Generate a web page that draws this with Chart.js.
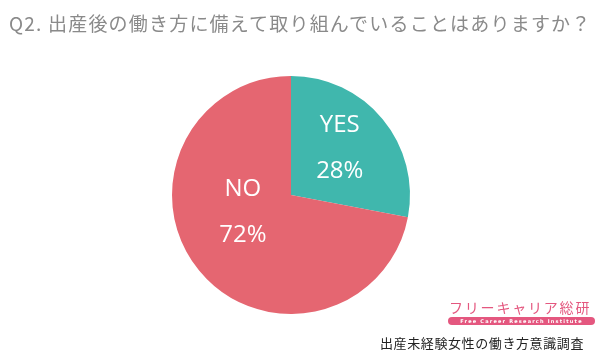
<!DOCTYPE html>
<html><head><meta charset="utf-8">
<script src="https://cdn.jsdelivr.net/npm/chart.js@4/dist/chart.umd.min.js"></script>
<style>
html,body{margin:0;padding:0;background:#fff;width:600px;height:358px;overflow:hidden;}
#wrap{position:relative;width:600px;height:358px;}
canvas{position:absolute;left:0;top:0;}
#title{position:absolute;left:9px;top:9px;font-family:"Noto Sans CJK JP";font-size:19px;color:#8a8a8a;letter-spacing:1.2px;white-space:nowrap;}
#logo{position:absolute;left:449px;top:297px;font-family:"Noto Sans CJK JP";font-size:14px;color:#e4577f;letter-spacing:1.8px;white-space:nowrap;}
#bar{position:absolute;left:448px;top:317px;width:147px;height:8px;border-radius:4px;background:#e4577f;color:#fff;font-family:"DejaVu Sans";font-weight:bold;font-size:5px;line-height:8px;text-align:center;letter-spacing:1.2px;white-space:nowrap;}
#foot{position:absolute;left:380px;top:333px;font-family:"Noto Sans CJK JP";font-size:13px;color:#222;letter-spacing:0.6px;white-space:nowrap;}
</style></head>
<body><div id="wrap">
<canvas id="c" width="600" height="358"></canvas>
<div id="title">Q2. 出産後の働き方に備えて取り組んでいることはありますか？</div>
<div id="logo">フリーキャリア総研</div>
<div id="bar">Free Career Research Institute</div>
<div id="foot">出産未経験女性の働き方意識調査</div>
</div>
<script>
const categories = ["YES", "NO"];
const values = [28, 72];
const colors = ["#40b7ad", "#e56671"];
// label placement (fraction of radius, angle in degrees) per slice
const labelPos = [[0.57, -44], [0.43, 160]];

const labelPlugin = {
  id: 'sliceLabels',
  afterDatasetsDraw(chart) {
    const ctx = chart.ctx;
    const meta = chart.getDatasetMeta(0);
    meta.data.forEach((arc, i) => {
      const r = arc.outerRadius * labelPos[i][0];
      const a = labelPos[i][1] * Math.PI / 180;
      const x = arc.x + r * Math.cos(a);
      const y = arc.y + r * Math.sin(a);
      ctx.save();
      ctx.fillStyle = '#ffffff';
      ctx.font = '24px "Open Sans", "Noto Sans"';
      ctx.textAlign = 'center';
      ctx.textBaseline = 'middle';
      ctx.fillText(categories[i], x, y - 23);
      ctx.fillText(values[i] + '%', x, y + 23);
      ctx.restore();
    });
  }
};

new Chart(document.getElementById('c'), {
  type: 'pie',
  data: {
    labels: categories,
    datasets: [{ data: values, backgroundColor: colors, borderWidth: 0 }]
  },
  options: {
    responsive: false,
    animation: false,
    layout: { padding: { left: 172, right: 190, top: 76, bottom: 44 } },
    plugins: { legend: { display: false }, tooltip: { enabled: false } }
  },
  plugins: [labelPlugin]
});
</script>
</body></html>
